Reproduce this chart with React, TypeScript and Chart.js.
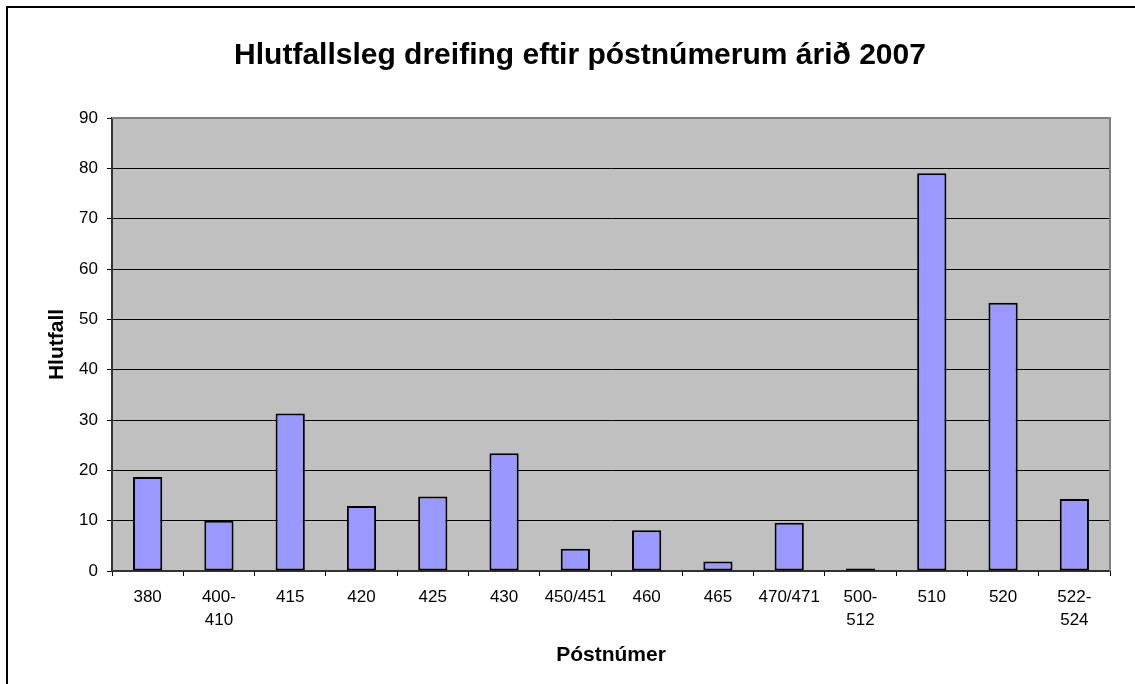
import React, { useEffect, useRef } from "react";
import { Chart, registerables } from "chart.js";

Chart.register(...registerables);

const categories: (string | string[])[] = [
  "380", ["400-", "410"], "415", "420", "425", "430", "450/451", "460", "465",
  "470/471", ["500-", "512"], "510", "520", ["522-", "524"],
];
const values: number[] = [18.7, 10.0, 31.3, 12.9, 14.8, 23.4, 4.4, 8.1, 1.9, 9.6, 0.5, 79.0, 53.3, 14.3];
const yMin = 0;
const yMax = 90;
const yStep = 10;

const titleText = "Hlutfallsleg dreifing eftir póstnúmerum árið 2007";
const xTitle = "Póstnúmer";
const yTitle = "Hlutfall";

const FONT = "'Liberation Sans', Arial, sans-serif";

const plotBg = {
  id: "plotBg",
  beforeDraw(chart: any) {
    const { ctx, chartArea } = chart;
    ctx.save();
    ctx.fillStyle = "#C0C0C0";
    ctx.fillRect(chartArea.left, chartArea.top, chartArea.right - chartArea.left, chartArea.bottom - chartArea.top);
    ctx.restore();
  },
  beforeDatasetsDraw(chart: any) {
    const { ctx, chartArea } = chart;
    ctx.save();
    ctx.strokeStyle = "#808080";
    ctx.lineWidth = 2;
    ctx.beginPath();
    ctx.moveTo(chartArea.left, chartArea.top);
    ctx.lineTo(chartArea.right, chartArea.top);
    ctx.lineTo(chartArea.right, chartArea.bottom);
    ctx.stroke();
    ctx.restore();
  },
};

export default function App() {
  const ref = useRef<HTMLCanvasElement>(null);
  useEffect(() => {
    document.body.style.overflow = "hidden";
    const chart = new Chart(ref.current!, {
      type: "bar",
      data: {
        labels: categories,
        datasets: [
          {
            data: values,
            backgroundColor: "#9999FF",
            borderColor: "#000000",
            borderWidth: 2,
            borderSkipped: false,
            barPercentage: 0.41,
            categoryPercentage: 1,
          },
        ],
      },
      options: {
        responsive: false,
        animation: false,
        layout: { padding: { left: 0, right: 0, top: 0, bottom: 23 } },
        plugins: {
          legend: { display: false },
          tooltip: { enabled: false },
          title: {
            display: true,
            text: titleText,
            color: "#000",
            font: { family: FONT, size: 30, weight: "bold", lineHeight: 1.2 },
            padding: { top: 29.5, bottom: 44.5 },
          },
        },
        scales: {
          x: {
            afterFit: (s: any) => { s.height = 100; },
            grid: {
              offset: true,
              drawOnChartArea: false,
              drawTicks: true,
              tickLength: 5,
              tickColor: "#000",
            },
            border: { display: true, color: "#333", width: 2 },
            ticks: {
              color: "#000",
              font: { family: FONT, size: 17, lineHeight: 1.35 },
              padding: 10,
              maxRotation: 0,
              minRotation: 0,
              autoSkip: false,
            },
            title: {
              display: true,
              text: xTitle,
              color: "#000",
              font: { family: FONT, size: 21, weight: "bold", lineHeight: 1.2 },
              padding: { top: 0, bottom: 3.4 },
            },
          },
          y: {
            min: yMin,
            max: yMax,
            afterFit: (s: any) => { s.width = 104; },
            grid: {
              color: (c: any) => (c.tick && c.tick.value === yMax ? "rgba(0,0,0,0)" : "#000"),
              lineWidth: 1,
              drawTicks: true,
              tickLength: 5,
              tickColor: "#000",
            },
            border: { display: true, color: "#333", width: 2 },
            ticks: {
              stepSize: yStep,
              color: "#000",
              font: { family: FONT, size: 17 },
              padding: 9,
            },
            title: {
              display: true,
              text: yTitle,
              color: "#000",
              font: { family: FONT, size: 21, weight: "bold", lineHeight: 1.2 },
              padding: { top: 36.4, bottom: 0 },
            },
          },
          yRight: {
            position: "right",
            display: true,
            afterFit: (s: any) => { s.width = 42; },
            grid: { display: false, drawTicks: false },
            border: { display: false },
            ticks: { display: false },
          },
        },
      },
      plugins: [plotBg],
    });
    return () => chart.destroy();
  }, []);

  return (
    <div
      style={{
        position: "fixed",
        left: 6,
        top: 6,
        width: 1148,
        height: 690,
        border: "2px solid #000",
        boxSizing: "border-box",
        background: "#fff",
        overflow: "hidden",
      }}
    >
      <canvas ref={ref} width={1144} height={686} style={{ display: "block" }} />
    </div>
  );
}
